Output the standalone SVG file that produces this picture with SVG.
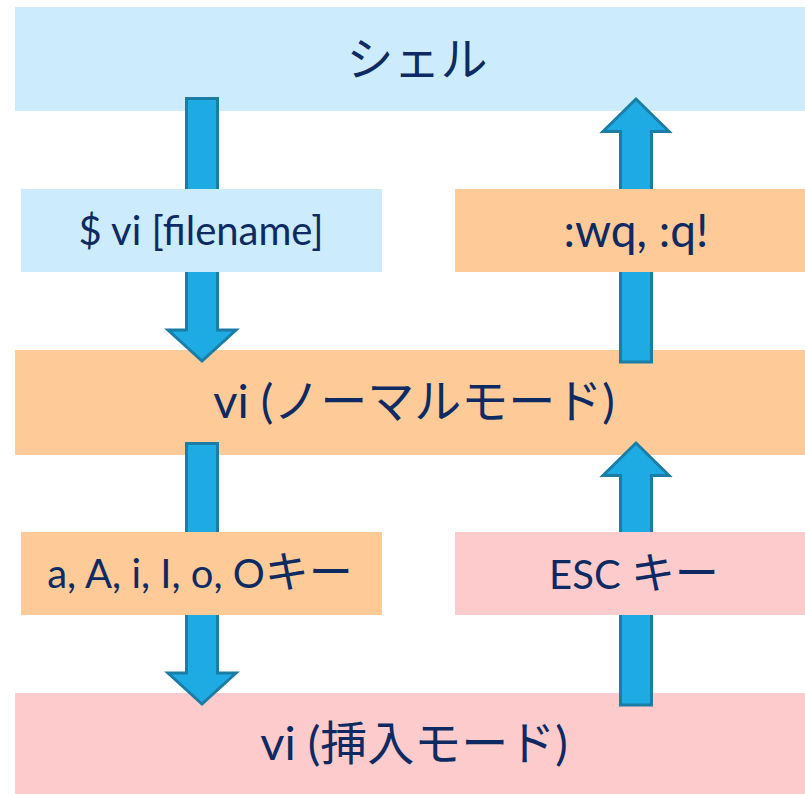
<svg xmlns="http://www.w3.org/2000/svg" width="805" height="794" viewBox="0 0 805 794">
<style>
.blue{fill:#CCEBFD}
.orange{fill:#FECA97}
.pink{fill:#FDCBCB}
.arrow{fill:#1EABE3;stroke:#1A7DA6;stroke-width:3;stroke-linejoin:miter}
text{fill:#0E2A62;font-family:"Lato","Liberation Sans","Noto Sans CJK JP",sans-serif;text-anchor:middle}
.big{font-size:47px}
.small{font-size:40px}
.jp{font-size:44px}
</style>
<rect width="805" height="794" fill="#FFFFFF"/>
<g id="shell"><rect class="blue" x="15" y="7" width="790" height="104"/><text class="big" x="417" y="76">シェル</text></g>
<g id="normal"><rect class="orange" x="15" y="350" width="790" height="105"/><text class="big" x="414" y="418">vi (ノーマルモード)</text></g>
<g id="insert"><rect class="pink" x="15" y="693" width="790" height="101"/><text class="big" x="414" y="760">vi (挿入モード)</text></g>
<g id="connectors">
<path class="arrow" d="M186.5,98.5 H217.5 V330 H236 L202,361 L168,330 H186.5 Z"/>
<path class="arrow" d="M186.5,443.5 H217.5 V673 H236 L202,704 L168,673 H186.5 Z"/>
<path class="arrow" d="M620.5,362 V131.5 H603 L636,99 L669,131.5 H651.5 V362 Z"/>
<path class="arrow" d="M620.5,705 V475.5 H603 L636,443 L669,475.5 H651.5 V705 Z"/>
</g>
<g id="label-vi"><rect class="blue" x="21" y="189" width="361" height="83"/><text class="small" x="201" y="245">$ vi [filename]</text></g>
<g id="label-wq"><rect class="orange" x="455" y="189" width="350" height="83"/><text class="small" x="636" y="247" style="font-size:46px">:wq, :q!</text></g>
<g id="label-keys"><rect class="orange" x="21" y="532" width="361" height="83"/><text class="small" x="200" y="588">a, A, i, I, o, O<tspan class="jp">キー</tspan></text></g>
<g id="label-esc"><rect class="pink" x="455" y="532" width="350" height="83"/><text class="small" x="634" y="589">ESC <tspan class="jp">キー</tspan></text></g>
</svg>
